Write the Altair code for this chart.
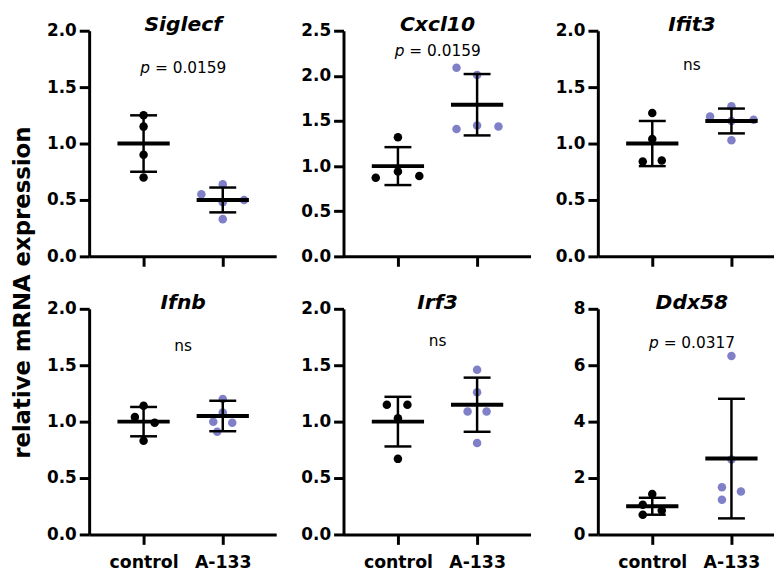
import altair as alt
import pandas as pd

GROUPS = ["control", "A-133"]
GROUP_POS = [1, 2]
GENES = ["Siglecf", "Cxcl10", "Ifit3", "Ifnb", "Irf3", "Ddx58"]
Y_MAX = [2.0, 2.5, 2.0, 2.0, 2.0, 8]
Y_TICKS = [
    [0, 0.5, 1.0, 1.5, 2.0],
    [0, 0.5, 1.0, 1.5, 2.0, 2.5],
    [0, 0.5, 1.0, 1.5, 2.0],
    [0, 0.5, 1.0, 1.5, 2.0],
    [0, 0.5, 1.0, 1.5, 2.0],
    [0, 2, 4, 6, 8],
]
Y_FORMAT = [".1f", ".1f", ".1f", ".1f", ".1f", "d"]
P_VALUE = ["0.0159", "0.0159", "ns", "ns", "ns", "0.0317"]
P_Y = [1.67, 2.28, 1.70, 1.67, 1.71, 6.8]

# individual points (relative mRNA expression)
siglecf_control = [1.25, 1.15, 0.90, 0.70]
siglecf_a133 = [0.55, 0.64, 0.48, 0.33, 0.50]
cxcl10_control = [1.32, 0.87, 0.94, 0.89]
cxcl10_a133 = [2.09, 2.01, 1.41, 1.45, 1.44]
ifit3_control = [1.27, 1.04, 0.84, 0.85]
ifit3_a133 = [1.24, 1.33, 1.20, 1.21, 1.03]
ifnb_control = [1.14, 1.04, 0.99, 0.83]
ifnb_a133 = [1.20, 1.08, 1.00, 0.99, 0.91]
irf3_control = [1.15, 1.15, 1.03, 0.67]
irf3_a133 = [1.46, 1.26, 1.09, 1.09, 0.81]
ddx58_control = [1.43, 1.05, 0.85, 0.70]
ddx58_a133 = [6.33, 2.66, 1.67, 1.52, 1.23]

# horizontal scatter of the dots (in group units)
siglecf_control_jit = [0, 0, 0, 0]
siglecf_a133_jit = [-0.27, 0, 0, 0, 0.27]
cxcl10_control_jit = [0, -0.28, 0, 0.27]
cxcl10_a133_jit = [-0.26, 0, -0.26, 0, 0.27]
ifit3_control_jit = [0, 0, -0.12, 0.12]
ifit3_a133_jit = [-0.27, 0, 0, 0.28, 0]
ifnb_control_jit = [0, -0.11, 0.14, 0]
ifnb_a133_jit = [0, 0, -0.12, 0.12, -0.07]
irf3_control_jit = [-0.14, 0.12, 0, 0]
irf3_a133_jit = [0, 0, -0.12, 0.12, 0]
ddx58_control_jit = [0, -0.12, 0.12, -0.12]
ddx58_a133_jit = [0, 0, -0.12, 0.12, -0.12]

# mean and SD per group
MEAN_CONTROL = [1.00, 1.00, 1.00, 1.00, 1.00, 1.00]
SD_CONTROL = [0.25, 0.21, 0.20, 0.13, 0.22, 0.30]
MEAN_A133 = [0.50, 1.68, 1.20, 1.05, 1.15, 2.69]
SD_A133 = [0.11, 0.34, 0.11, 0.135, 0.24, 2.12]

POINTS = [
    (siglecf_control, siglecf_control_jit, siglecf_a133, siglecf_a133_jit),
    (cxcl10_control, cxcl10_control_jit, cxcl10_a133, cxcl10_a133_jit),
    (ifit3_control, ifit3_control_jit, ifit3_a133, ifit3_a133_jit),
    (ifnb_control, ifnb_control_jit, ifnb_a133, ifnb_a133_jit),
    (irf3_control, irf3_control_jit, irf3_a133, irf3_a133_jit),
    (ddx58_control, ddx58_control_jit, ddx58_a133, ddx58_a133_jit),
]

FONT = "DejaVu Sans"
BLUE = "#7f80c8"
PX_PER_UNIT = 80
X_MIN = 0.3125


def panel(i, bottom, width):
    c_vals, c_jit, a_vals, a_jit = POINTS[i]
    pts = pd.DataFrame({
        "group": ["control"] * len(c_vals) + ["A-133"] * len(a_vals),
        "gx": [GROUP_POS[0]] * len(c_vals) + [GROUP_POS[1]] * len(a_vals),
        "jit": c_jit + a_jit,
        "value": c_vals + a_vals,
    })
    summ = pd.DataFrame({
        "gx": GROUP_POS,
        "mean": [MEAN_CONTROL[i], MEAN_A133[i]],
        "sd": [SD_CONTROL[i], SD_A133[i]],
    })
    xscale = alt.Scale(domain=[X_MIN, X_MIN + width / PX_PER_UNIT], nice=False, zero=False)
    yscale = alt.Scale(domain=[0, Y_MAX[i]], nice=False)
    xaxis = alt.Axis(
        values=GROUP_POS, title=None, grid=False, labels=bottom,
        labelExpr="datum.value == 1 ? 'control' : 'A-133'",
        labelFont=FONT, labelFontWeight="bold", labelFontSize=17.5, labelColor="black",
        labelPadding=9, tickSize=10, tickWidth=3, tickColor="black",
        domainWidth=3, domainColor="black",
    )
    yaxis = alt.Axis(
        values=Y_TICKS[i], format=Y_FORMAT[i], title=None, grid=False,
        labelFont=FONT, labelFontWeight="bold", labelFontSize=17, labelColor="black",
        labelPadding=3, tickSize=10, tickWidth=3, tickColor="black",
        domainWidth=3, domainColor="black",
    )
    base_pts = alt.Chart(pts)
    points = base_pts.mark_circle(size=74, opacity=1).transform_calculate(
        xpos="datum.gx + datum.jit"
    ).encode(
        x=alt.X("xpos:Q", scale=xscale, axis=xaxis),
        y=alt.Y("value:Q", scale=yscale, axis=yaxis),
        color=alt.Color("group:N", scale=alt.Scale(domain=GROUPS, range=["#000000", BLUE]), legend=None),
    )
    base_s = alt.Chart(summ).transform_calculate(
        lo="datum.mean - datum.sd", hi="datum.mean + datum.sd",
        m1="datum.gx - 0.33", m2="datum.gx + 0.33",
        c1="datum.gx - 0.17", c2="datum.gx + 0.17",
    )
    mean_line = base_s.mark_rule(strokeWidth=4, color="black").encode(
        x=alt.X("m1:Q", scale=xscale, axis=xaxis), x2="m2:Q",
        y=alt.Y("mean:Q", scale=yscale, axis=yaxis),
    )
    err = base_s.mark_rule(strokeWidth=2.5, color="black").encode(
        x=alt.X("gx:Q", scale=xscale, axis=xaxis),
        y=alt.Y("lo:Q", scale=yscale, axis=yaxis), y2="hi:Q",
    )
    cap_hi = base_s.mark_rule(strokeWidth=2.5, color="black").encode(
        x=alt.X("c1:Q", scale=xscale, axis=xaxis), x2="c2:Q",
        y=alt.Y("hi:Q", scale=yscale, axis=yaxis),
    )
    cap_lo = base_s.mark_rule(strokeWidth=2.5, color="black").encode(
        x=alt.X("c1:Q", scale=xscale, axis=xaxis), x2="c2:Q",
        y=alt.Y("lo:Q", scale=yscale, axis=yaxis),
    )
    ann = pd.DataFrame({
        "tx": [1.5], "ty": [Y_MAX[i]], "py": [P_Y[i]],
        "title": [GENES[i]], "p": [P_VALUE[i]],
    })
    base_a = alt.Chart(ann)
    title = base_a.mark_text(
        font=FONT, fontSize=20.5, fontWeight="bold", fontStyle="italic",
        baseline="alphabetic", align="center", color="black",
    ).encode(
        x=alt.X("tx:Q", scale=xscale, axis=xaxis),
        y=alt.Y("ty:Q", scale=yscale, axis=yaxis),
        text="title:N",
    )
    layers = [points, mean_line, err, cap_hi, cap_lo, title]
    if P_VALUE[i] == "ns":
        layers.append(base_a.mark_text(
            font=FONT, fontSize=15.5, baseline="middle", align="center", color="black",
        ).encode(
            x=alt.X("tx:Q", scale=xscale, axis=xaxis),
            y=alt.Y("py:Q", scale=yscale, axis=yaxis),
            text="p:N",
        ))
    else:
        layers.append(base_a.mark_text(
            font=FONT, fontSize=15.5, fontStyle="italic", baseline="middle",
            align="right", dx=-33.5, color="black",
        ).encode(
            x=alt.X("tx:Q", scale=xscale, axis=xaxis),
            y=alt.Y("py:Q", scale=yscale, axis=yaxis),
            text=alt.value("p"),
        ))
        layers.append(base_a.transform_calculate(lab="'= ' + datum.p").mark_text(
            font=FONT, fontSize=15.5, baseline="middle",
            align="left", dx=-28.5, color="black",
        ).encode(
            x=alt.X("tx:Q", scale=xscale, axis=xaxis),
            y=alt.Y("py:Q", scale=yscale, axis=yaxis),
            text="lab:N",
        ))
    return alt.layer(*layers).properties(width=width, height=228)


panels = [
    panel(0, False, 189), panel(1, False, 189), panel(2, False, 178),
    panel(3, True, 189), panel(4, True, 189), panel(5, True, 178),
]

chart = alt.concat(
    *panels, columns=3, spacing={"row": 53, "column": 68}, bounds="flush"
).properties(
    title=alt.TitleParams(
        "relative mRNA expression", orient="left", anchor="middle",
        font=FONT, fontSize=23, fontWeight="bold", color="black", offset=12,
    ),
    padding={"left": 3, "top": 4, "right": 0, "bottom": 0},
    background="white",
).configure_view(stroke=None)

chart.save("out.html", embed_options={"renderer": "svg", "actions": False})
